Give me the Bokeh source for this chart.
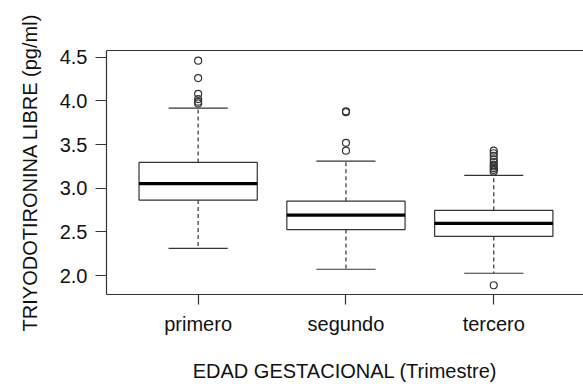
from bokeh.plotting import figure
from bokeh.models import Range1d, FixedTicker, LinearAxis, ColumnDataSource, NumeralTickFormatter
from bokeh.embed import file_html
from bokeh.resources import INLINE

categories = ["primero", "segundo", "tercero"]
positions = [1, 2, 3]
q1 = [2.864, 2.527, 2.448]
median = [3.053, 2.693, 2.599]
q3 = [3.295, 2.852, 2.747]
whisker_low = [2.311, 2.073, 2.027]
whisker_high = [3.917, 3.311, 3.148]
outliers_primero = [4.46, 4.26, 4.08, 4.02, 3.99, 3.97]
outliers_segundo = [3.87, 3.88, 3.52, 3.43]
outliers_tercero = [3.43, 3.40, 3.37, 3.33, 3.30, 3.27, 3.25, 3.23, 3.21, 3.19, 1.89]
y_ticks = [2.0, 2.5, 3.0, 3.5, 4.0, 4.5]

FONT = "Liberation Sans"
INK = "#333333"
FS = "20px"

p = figure(width=583, height=384, output_backend="svg", toolbar_location=None,
           x_range=Range1d(0.38, 3.607), y_range=Range1d(1.784, 4.576),
           min_border_left=106, min_border_right=0, min_border_top=50, min_border_bottom=88)
p.outline_line_color = None
p.grid.visible = False
p.background_fill_color = "white"

hw = 0.4
cw = 0.2
src = ColumnDataSource(dict(
    x=positions,
    left=[c - hw for c in positions], right=[c + hw for c in positions],
    cl=[c - cw for c in positions], cr=[c + cw for c in positions],
    q1=q1, q3=q3, med=median, lo=whisker_low, hi=whisker_high))

p.segment(x0="x", y0="q3", x1="x", y1="hi", source=src, line_color=INK, line_width=1.2, line_dash="4 3")
p.segment(x0="x", y0="q1", x1="x", y1="lo", source=src, line_color=INK, line_width=1.2, line_dash="4 3")
p.segment(x0="cl", y0="hi", x1="cr", y1="hi", source=src, line_color=INK, line_width=1.2)
p.segment(x0="cl", y0="lo", x1="cr", y1="lo", source=src, line_color=INK, line_width=1.2)
p.quad(left="left", right="right", bottom="q1", top="q3", source=src,
       fill_color="white", line_color=INK, line_width=1.2)
p.segment(x0="left", y0="med", x1="right", y1="med", source=src, line_color="black", line_width=3.2)

ox, oy = [], []
for pos, outs in zip(positions, [outliers_primero, outliers_segundo, outliers_tercero]):
    ox += [pos] * len(outs)
    oy += outs
p.scatter(ox, oy, marker="circle", size=7, fill_color=None, line_color=INK, line_width=1.2)

xa = p.xaxis[0]
xa.ticker = FixedTicker(ticks=positions)
xa.major_label_overrides = {pos: c for pos, c in zip(positions, categories)}
xa.axis_label = "EDAD GESTACIONAL (Trimestre)"
ya = p.yaxis[0]
ya.ticker = FixedTicker(ticks=y_ticks)
ya.formatter = NumeralTickFormatter(format="0.0")
ya.axis_label = "TRIYODOTIRONINA LIBRE (pg/ml)"

for ax in (xa, ya):
    ax.major_tick_out = 10
    ax.major_tick_in = 0
    ax.minor_tick_out = 0
    ax.minor_tick_in = 0
    ax.axis_line_color = INK
    ax.axis_line_width = 1.2
    ax.major_tick_line_color = INK
    ax.major_tick_line_width = 1.2
    ax.major_label_text_font = FONT
    ax.major_label_text_font_size = FS
    ax.major_label_text_color = "#111111"
    ax.axis_label_text_font = FONT
    ax.axis_label_text_font_size = FS
    ax.axis_label_text_font_style = "normal"
    ax.axis_label_text_color = "#111111"
ya.major_tick_out = 11
xa.major_label_standoff = 8
xa.axis_label_standoff = 22
ya.major_label_standoff = 8
ya.axis_label_standoff = 16

top = LinearAxis(ticker=FixedTicker(ticks=[]), major_label_text_font_size="0px",
                 axis_line_color=INK, axis_line_width=1.2,
                 major_tick_out=0, major_tick_in=0, minor_tick_out=0, minor_tick_in=0)
p.add_layout(top, "above")

open("out.html", "w").write(file_html(p, INLINE))
